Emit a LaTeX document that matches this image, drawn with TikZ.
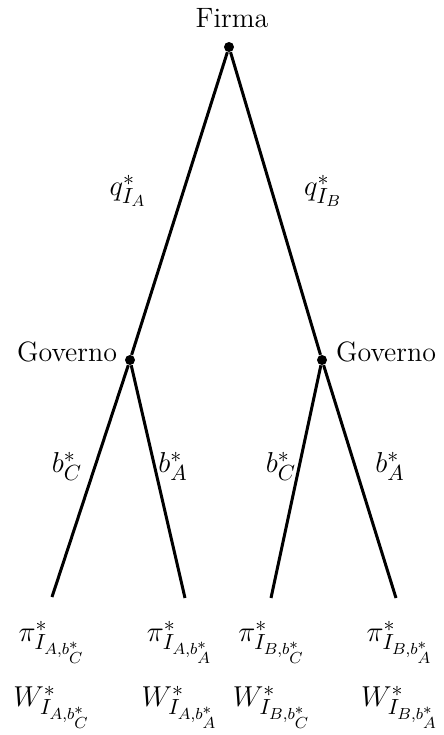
\documentclass[tikz,border=0pt]{standalone}
\usetikzlibrary{positioning}

\begin{document}
\begin{tikzpicture}[
                x=0.5pt, y=-0.5pt,
                dec/.style={circle, fill=black, inner sep=0pt, minimum size=5pt},
                branch/.style={line width=1.5pt},
                player/.style={font=\rmfamily\fontsize{14}{17}\selectfont},
                every node/.style={font=\fontsize{15.5}{18}\selectfont}
            ]
                \useasboundingbox (0,0) rectangle (444,735);

                \node[dec] (firma) at (229,47) {};
                \node[dec] (govA) at (130,360) {};
                \node[dec] (govB) at (322,360) {};
                \coordinate (endAC) at (52,597);
                \coordinate (endAA) at (185,598);
                \coordinate (endBC) at (271,598);
                \coordinate (endBA) at (396,598);

                \draw[branch] (firma) -- (govA);
                \draw[branch] (firma) -- (govB);
                \draw[branch] (govA) -- (endAC);
                \draw[branch] (govA) -- (endAA);
                \draw[branch] (govB) -- (endBC);
                \draw[branch] (govB) -- (endBA);

                \node[player] (lFirma) at (232,18) {Firma};
                \node[player] (lGovA) at (67,352) {Governo};
                \node[player] (lGovB) at (386,352) {Governo};

                \node (qA) at (128,191) {$q^*_{I_A}$};
                \node (qB) at (323,191) {$q^*_{I_B}$};
                \node (bAC) at (67,466) {$b^*_C$};
                \node (bAA) at (173,466) {$b^*_A$};
                \node (bBC) at (281,466) {$b^*_C$};
                \node (bBA) at (390,466) {$b^*_A$};

                \node (piAC) at (52,642) {$\pi^*_{I_{A,b^*_C}}$};
                \node (piAA) at (180,642) {$\pi^*_{I_{A,b^*_A}}$};
                \node (piBC) at (272,642) {$\pi^*_{I_{B,b^*_C}}$};
                \node (piBA) at (400,642) {$\pi^*_{I_{B,b^*_A}}$};
                \node (wAC) at (52,707) {$W^*_{I_{A,b^*_C}}$};
                \node (wAA) at (180,707) {$W^*_{I_{A,b^*_A}}$};
                \node (wBC) at (272,707) {$W^*_{I_{B,b^*_C}}$};
                \node (wBA) at (400,707) {$W^*_{I_{B,b^*_A}}$};
            \end{tikzpicture}
\end{document}
